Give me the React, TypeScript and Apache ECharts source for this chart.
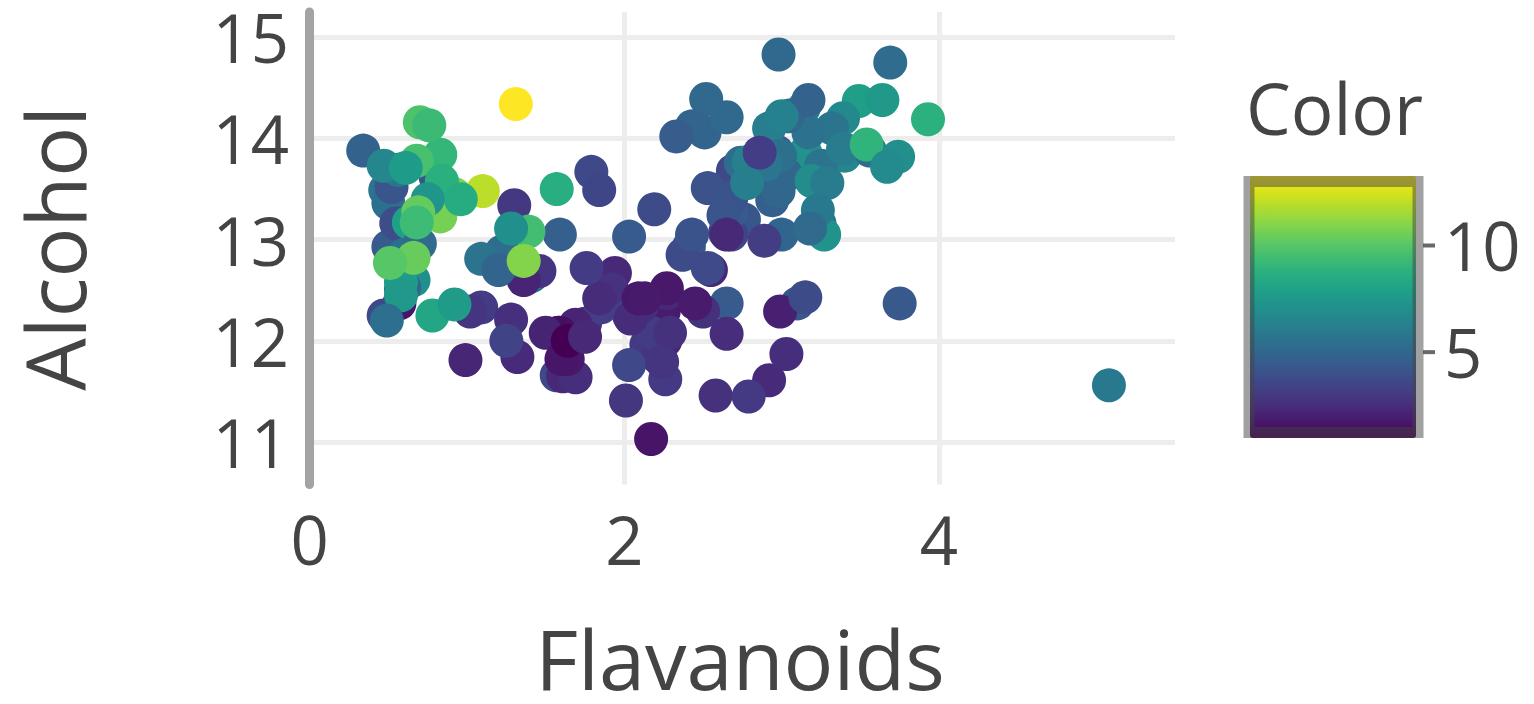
import React, { useEffect, useRef } from "react";
import * as echarts from "echarts";

// Wine data: alcohol, flavanoids, color intensity (178 samples)
const alcohol = [
  14.23, 13.2, 13.16, 14.37, 13.24, 14.2, 14.39, 14.06, 14.83, 13.86, 14.1, 14.12, 13.75, 14.75, 14.38, 13.63, 14.3, 13.83, 14.19, 13.64,
  14.06, 12.93, 13.71, 12.85, 13.5, 13.05, 13.39, 13.3, 13.87, 14.02, 13.73, 13.58, 13.68, 13.76, 13.51, 13.48, 13.28, 13.05, 13.07, 14.22,
  13.56, 13.41, 13.88, 13.24, 13.05, 14.21, 14.38, 13.9, 14.1, 13.94, 13.05, 13.83, 13.82, 13.77, 13.74, 13.56, 14.22, 13.29, 13.72,
  12.37, 12.33, 12.64, 13.67, 12.37, 12.17, 12.37, 13.11, 12.37, 13.34, 12.21, 12.29, 13.86, 13.49, 12.99, 11.96, 11.66, 13.03, 11.84, 12.33,
  12.7, 12.0, 12.72, 12.08, 13.05, 11.84, 12.67, 12.16, 11.65, 11.64, 12.08, 12.08, 12.0, 12.69, 12.29, 11.62, 12.47, 11.81, 12.29, 12.37,
  12.29, 12.08, 12.6, 12.34, 11.82, 12.51, 12.42, 12.25, 12.72, 12.22, 11.61, 11.46, 12.52, 11.76, 11.41, 12.08, 11.03, 11.82, 12.42, 12.77,
  12.0, 11.45, 11.56, 12.42, 13.05, 11.87, 12.07, 12.43, 11.79, 12.37, 12.04,
  12.86, 12.88, 12.81, 12.7, 12.51, 12.6, 12.25, 12.53, 13.49, 12.84, 12.93, 13.36, 13.52, 13.62, 12.25, 13.16, 13.88, 12.87, 13.32, 13.08,
  13.5, 12.79, 13.11, 13.23, 12.58, 13.17, 13.84, 12.45, 14.34, 13.48, 12.36, 13.69, 12.85, 12.96, 13.78, 13.73, 13.45, 12.82, 13.58, 13.4,
  12.2, 12.77, 14.16, 13.71, 13.4, 13.27, 13.17, 14.13,
];

const flavanoids = [
  3.06, 2.76, 3.24, 3.49, 2.69, 3.39, 2.52, 2.51, 2.98, 3.15, 3.32, 2.43, 2.76, 3.69, 3.64, 2.91, 3.14, 3.4, 3.93, 3.03,
  3.17, 2.41, 2.88, 2.37, 2.61, 2.68, 2.94, 2.19, 2.97, 2.33, 3.25, 3.19, 2.69, 2.74, 2.53, 2.98, 2.68, 2.43, 2.64, 3.04,
  3.29, 2.68, 3.56, 2.63, 3.0, 2.65, 3.17, 3.39, 2.92, 3.54, 3.27, 2.99, 3.74, 2.79, 2.9, 2.78, 3.0, 3.23, 3.67,
  0.57, 1.09, 1.41, 1.79, 3.1, 1.75, 2.65, 3.18, 2.0, 1.3, 1.28, 1.02, 2.86, 1.84, 2.89, 2.14, 1.57, 2.03, 1.32, 1.85,
  2.55, 2.26, 2.53, 1.58, 1.59, 2.21, 1.94, 1.69, 1.61, 1.69, 1.59, 1.5, 1.25, 1.46, 2.25, 2.26, 2.27, 0.99, 2.5, 3.75,
  2.99, 2.17, 1.36, 2.11, 1.64, 1.92, 1.84, 2.03, 1.76, 2.04, 2.92, 2.58, 2.27, 2.03, 2.01, 2.29, 2.17, 1.6, 2.09, 1.25,
  1.64, 2.79, 5.08, 2.13, 2.65, 3.03, 2.65, 3.15, 2.24, 2.45, 1.75,
  1.25, 1.22, 1.09, 1.2, 0.58, 0.66, 0.47, 0.6, 0.48, 0.6, 0.5, 0.5, 0.52, 0.8, 0.78, 0.55, 0.34, 0.65, 0.76, 1.39,
  1.57, 1.36, 1.28, 0.83, 0.58, 0.63, 0.83, 0.58, 1.31, 1.1, 0.92, 0.56, 0.6, 0.7, 0.68, 0.47, 0.92, 0.66, 0.84, 0.96,
  0.49, 0.51, 0.7, 0.61, 0.75, 0.69, 0.68, 0.76,
];

const colorIntensity = [
  5.64, 4.38, 5.68, 7.8, 4.32, 6.75, 5.25, 5.05, 5.2, 7.22, 5.75, 5.0, 5.6, 5.4, 7.5, 7.3, 6.2, 6.6, 8.7, 5.1,
  5.65, 4.5, 3.8, 3.93, 3.52, 3.58, 4.8, 3.95, 4.5, 4.7, 5.7, 6.9, 3.84, 5.4, 4.2, 5.1, 4.6, 4.25, 3.7, 5.1,
  6.13, 4.28, 5.43, 4.36, 5.04, 5.24, 4.9, 6.1, 6.2, 8.9, 7.2, 5.6, 7.05, 6.3, 5.85, 6.25, 6.38, 6.0, 6.8,
  1.95, 3.27, 5.75, 3.8, 4.45, 2.95, 4.6, 5.3, 4.68, 3.17, 2.85, 3.05, 3.38, 3.74, 3.35, 3.21, 3.8, 4.6, 2.65, 3.4,
  2.57, 2.5, 3.9, 2.2, 4.8, 3.05, 2.62, 2.45, 2.6, 2.8, 1.74, 2.4, 3.6, 3.05, 2.15, 3.25, 2.6, 2.5, 2.9, 4.5,
  2.3, 3.3, 2.45, 2.8, 2.06, 2.94, 2.7, 3.4, 3.3, 2.7, 2.65, 2.9, 2.0, 3.8, 3.08, 2.9, 1.9, 1.95, 2.06, 3.4,
  1.28, 3.25, 6.0, 2.08, 2.6, 2.8, 2.76, 3.94, 3.0, 2.12, 2.6,
  4.1, 5.4, 5.7, 5.0, 5.45, 7.1, 3.85, 5.0, 5.7, 4.92, 4.6, 5.6, 4.35, 4.4, 8.21, 4.0, 4.9, 7.65, 8.42, 9.4,
  8.6, 10.8, 7.1, 10.52, 7.6, 7.9, 9.01, 7.5, 13.0, 11.75, 7.65, 5.88, 5.58, 5.28, 9.58, 6.62, 10.68, 10.26, 8.66, 8.5,
  5.5, 9.9, 9.7, 7.7, 7.3, 10.2, 9.3, 9.2,
];

const xTicks = [0, 2, 4];
const yTicks = [11, 12, 13, 14, 15];
const colorTicks = [5, 10];

const viridis = [
  "#440154", "#48186a", "#472d7b", "#424086", "#3b528b", "#33638d", "#2c728e", "#26828e", "#21918c",
  "#1fa088", "#28ae80", "#3fbc73", "#5ec962", "#84d44b", "#addc30", "#d8e219", "#fde725",
];

export default function App() {
  const ref = useRef<HTMLDivElement>(null);

  useEffect(() => {
    if (!ref.current) return;
    const chart = echarts.init(ref.current, null, { renderer: "svg" });
    const data = flavanoids.map((f, i) => [f, alcohol[i], colorIntensity[i]]);
    const font = "'Open Sans', verdana, arial, sans-serif";
    const cMin = Math.min(...colorIntensity);
    const cMax = Math.max(...colorIntensity);
    const tickFont = 67;

    chart.setOption({
      animation: false,
      textStyle: { fontFamily: font },
      title: {
        text: "Color",
        left: 1246,
        top: 72,
        padding: 0,
        textStyle: { fontSize: 71, fontWeight: "normal", color: "#444", fontFamily: font },
      },
      grid: [
        { left: 305, top: 12, width: 870, height: 478 },
        { left: 1249, top: 181.5, width: 169, height: 250 },
      ],
      xAxis: [
        {
          type: "value",
          gridIndex: 0,
          min: -0.03,
          max: 5.5,
          splitNumber: 3,
          name: "Flavanoids",
          nameLocation: "middle",
          nameGap: 138,
          nameTextStyle: { fontSize: 83, lineHeight: 70, color: "#444", fontFamily: font },
          axisLine: { show: false, onZero: false },
          axisTick: { show: false },
          axisLabel: {
            fontSize: tickFont,
            color: "#444",
            margin: 21,
            fontFamily: font,
            customValues: xTicks,
          },
          splitLine: {
            show: true,
            showMinLine: false,
            showMaxLine: false,
            lineStyle: { color: "#ededed", width: 5 },
          },
        },
        { type: "value", gridIndex: 1, show: false, min: 0, max: 1 },
      ],
      yAxis: [
        {
          type: "value",
          gridIndex: 0,
          min: 10.58,
          max: 15.25,
          splitNumber: 5,
          name: "Alcohol",
          nameLocation: "middle",
          nameGap: 210,
          nameTextStyle: { fontSize: 83, color: "#444", fontFamily: font },
          axisLine: { show: true, onZero: true, lineStyle: { color: "#a3a3a3", width: 9 } },
          axisTick: { show: false },
          axisLabel: {
            fontSize: tickFont,
            color: "#444",
            margin: 16,
            fontFamily: font,
            customValues: yTicks,
          },
          splitLine: {
            show: true,
            showMinLine: false,
            showMaxLine: false,
            lineStyle: { color: "#ededed", width: 5 },
          },
        },
        {
          type: "value",
          gridIndex: 1,
          position: "right",
          min: cMin,
          max: cMax,
          splitNumber: 2,
          axisLine: { show: false },
          splitLine: { show: false },
          axisTick: { show: false },
          axisLabel: {
            fontSize: tickFont,
            color: "#444",
            margin: 26,
            fontFamily: font,
            customValues: colorTicks,
          },
        },
      ],
      visualMap: {
        type: "continuous",
        seriesIndex: 0,
        dimension: 2,
        min: cMin,
        max: cMax,
        orient: "vertical",
        calculable: false,
        hoverLink: false,
        left: 1250,
        top: 176,
        itemWidth: 166,
        itemHeight: 262,
        padding: 0,
        z: 1,
        inRange: { color: viridis },
      },
      graphic: [
        {
          type: "rect",
          silent: true,
          z: 100,
          shape: { x: 1249, y: 181.5, width: 169, height: 251 },
          style: { fill: "none", stroke: "rgba(68,68,68,0.5)", lineWidth: 11 },
        },
      ],
      series: [
        {
          type: "scatter",
          xAxisIndex: 0,
          yAxisIndex: 0,
          data,
          symbolSize: 34,
          itemStyle: { opacity: 1 },
          emphasis: { disabled: true },
        },
        {
          // colorbar tick marks at the right edge of the bar
          type: "scatter",
          xAxisIndex: 1,
          yAxisIndex: 1,
          data: colorTicks.map((v) => [1, v]),
          symbol: "rect",
          symbolSize: [12, 4],
          symbolOffset: [11, 0],
          clip: false,
          z: 120,
          itemStyle: { color: "#444" },
          emphasis: { disabled: true },
          silent: true,
        },
      ],
    });

    return () => chart.dispose();
  }, []);

  return (
    <div
      ref={ref}
      style={{ position: "fixed", left: 0, top: 0, width: 1534, height: 704, background: "#fff" }}
    />
  );
}
